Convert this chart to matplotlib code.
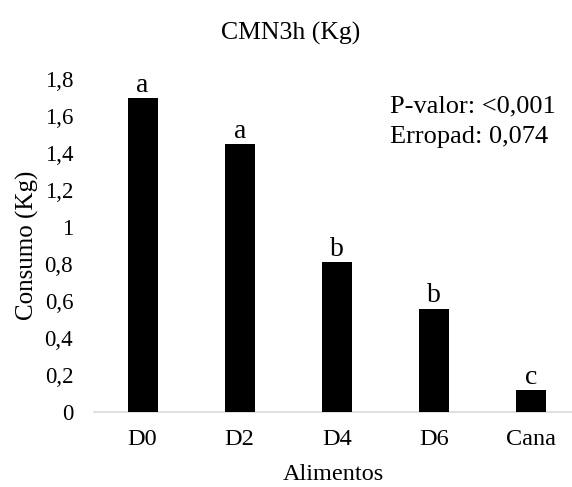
import matplotlib
matplotlib.use("Agg")
import matplotlib.pyplot as plt
from matplotlib.ticker import FuncFormatter

categories = ["D0", "D2", "D4", "D6", "Cana"]
values = [1.70, 1.45, 0.81, 0.56, 0.12]
letters = ["a", "a", "b", "b", "c"]
yticks = [0, 0.2, 0.4, 0.6, 0.8, 1.0, 1.2, 1.4, 1.6, 1.8]
title = "CMN3h (Kg)"
xlabel = "Alimentos"
ylabel = "Consumo (Kg)"
note_lines = ["P-valor: <0,001", "Erropad: 0,074"]

plt.rcParams['font.family'] = ['Liberation Serif', 'DejaVu Serif']

fig = plt.figure(figsize=(5.72, 4.87), dpi=100)
ax = fig.add_axes([94/572, (487-412.3)/487, (572-94)/572, (412.3-79.3)/487])

x = list(range(len(categories)))
ax.bar(x, values, width=0.31, color="black", zorder=3)
for xi, v, l in zip(x, values, letters):
    ax.annotate(l, (xi, v), xytext=(0, 4.5), textcoords="offset points",
                ha="center", va="baseline", fontsize=20)

ax.set_xlim(-0.5, 4 + (572 - 531) / 97.3)
ax.set_ylim(0, 1.8)
ax.set_yticks(yticks)
ax.yaxis.set_major_formatter(FuncFormatter(
    lambda v, p: ("%g" % round(v, 1)).replace(".", ",")))
ax.set_xticks(x)
ax.set_xticklabels(categories)
ax.tick_params(axis="both", length=0)
ax.tick_params(axis="y", pad=15, labelsize=16.5)
ax.tick_params(axis="x", pad=12, labelsize=17.5)

for s in ["top", "right", "left"]:
    ax.spines[s].set_visible(False)
ax.spines["bottom"].set_color("#d9d9d9")
ax.spines["bottom"].set_linewidth(1.2)

ax.set_xlabel(xlabel, fontsize=17.5, labelpad=10)
ax.set_ylabel(ylabel, fontsize=18, labelpad=4)
fig.text(291/572, 1 - 33/487, title, ha="center", va="center", fontsize=18.5)

fig.text(390/572, 1 - 112/487, note_lines[0], ha="left", va="baseline", fontsize=19)
fig.text(390/572, 1 - 143/487, note_lines[1], ha="left", va="baseline", fontsize=19)

fig.savefig("out.png", dpi=100)
